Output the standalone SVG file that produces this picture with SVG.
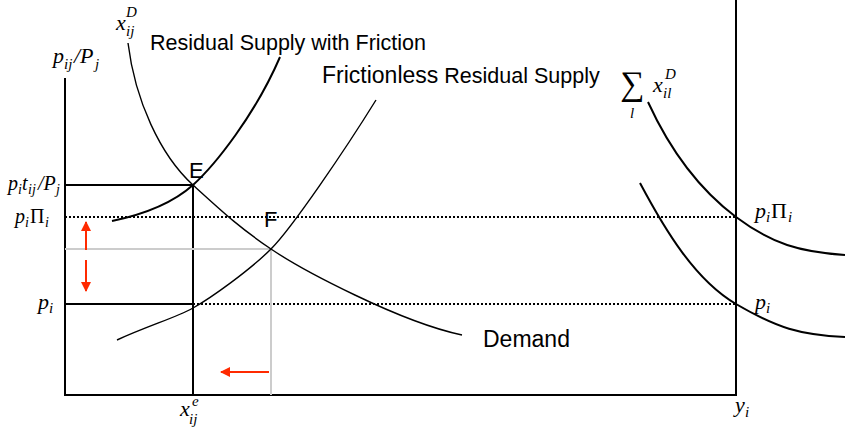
<svg xmlns="http://www.w3.org/2000/svg" width="845" height="432" viewBox="0 0 845 432">
<style>
.ax{stroke:#000;stroke-width:2;fill:none}
.cv{stroke:#000;stroke-width:1.4;fill:none}
.cvb{stroke:#000;stroke-width:2;fill:none}
.dot{stroke:#000;stroke-width:2;stroke-dasharray:2 2;fill:none}
.gr{stroke:#ccc;stroke-width:2;fill:none}
.red{stroke:#ff2a00;stroke-width:2;fill:none}
.m{font-family:"Liberation Serif",serif;font-style:italic;font-size:22px;fill:#000}
.mu{font-family:"Liberation Serif",serif;font-size:22px;fill:#000}
.s{font-family:"Liberation Serif",serif;font-style:italic;font-size:15px;fill:#000}
.t{font-family:"Liberation Sans",Arial,sans-serif;font-size:21.5px;fill:#000}
</style>
<defs>
<marker id="ah" markerWidth="12" markerHeight="12" refX="9" refY="5" orient="auto" markerUnits="userSpaceOnUse">
<path d="M0,0 L10,5 L0,10 z" fill="#ff2a00"/>
</marker>
</defs>
<g id="axes">
<line class="ax" x1="65" y1="78" x2="65" y2="396"/>
<line class="ax" x1="64" y1="395" x2="737" y2="395"/>
<line class="ax" x1="736" y1="0" x2="736" y2="396"/>
</g>
<g id="connectors">
<line class="ax" x1="65" y1="185" x2="193" y2="185"/>
<line class="ax" x1="193" y1="185" x2="193" y2="395"/>
<line class="ax" x1="65" y1="304" x2="193" y2="304"/>
<line class="dot" x1="193" y1="304" x2="736" y2="304"/>
<line class="dot" x1="65" y1="217" x2="736" y2="217"/>
<line class="gr" x1="65" y1="249" x2="271" y2="249"/>
<line class="gr" x1="271" y1="249" x2="271" y2="395"/>
<line class="red" x1="86" y1="250" x2="86" y2="222" marker-end="url(#ah)"/>
<line class="red" x1="86" y1="260" x2="86" y2="291" marker-end="url(#ah)"/>
<line class="red" x1="269" y1="372" x2="221" y2="372" marker-end="url(#ah)"/>
</g>
<g id="friction-supply">
<path class="cvb" d="M112,221 Q165,210 193,185 C215,165 255,115 280,57"/>
<text class="t" x="150" y="50">Residual Supply with Friction</text>
</g>
<g id="demand">
<path class="cv" d="M128,43 C135,100 160,155 193,185 S240,228 271,249 S400,322 462,335"/>
<text class="t" x="483" y="347" style="font-size:23px">Demand</text>
<text class="m" x="116" y="30">x</text>
<text class="s" x="126" y="36">ij</text>
<text class="s" x="126" y="17">D</text>
</g>
<g id="frictionless-supply">
<path class="cv" d="M117,340 C150,325 175,318 193,308 S250,270 271,249 S345,150 376,100"/>
<text class="t" x="322" y="83"><tspan style="font-size:23px">Frictionless</tspan><tspan> Residual Supply</tspan></text>
</g>
<g id="total-demand-upper">
<path class="cvb" d="M648,102 C670,150 700,190 736,217 S800,252 845,255"/>
<text class="mu" x="620" y="95" style="font-size:34px">∑</text>
<text class="s" x="630" y="118">l</text>
<text class="m" x="653" y="92">x</text>
<text class="s" x="663" y="98">il</text>
<text class="s" x="665" y="79">D</text>
</g>
<g id="total-demand-lower">
<path class="cvb" d="M640,183 C665,230 695,280 736,304 S800,335 845,337"/>
</g>
<g id="labels">
<text class="m" x="53" y="63">p</text>
<text class="s" x="64" y="69">ij</text>
<text class="m" x="74" y="63">/P</text>
<text class="s" x="95" y="69">j</text>
<text class="t" x="189" y="178" style="font-size:22px">E</text>
<text class="t" x="264" y="227" style="font-size:22px">F</text>
<text class="m" x="8" y="190" style="font-size:20px">p</text>
<text class="s" x="18" y="194" style="font-size:14px">i</text>
<text class="m" x="22" y="190" style="font-size:20px">t</text>
<text class="s" x="28" y="194" style="font-size:14px">ij</text>
<text class="m" x="38" y="190" style="font-size:20px">/P</text>
<text class="s" x="56" y="194" style="font-size:14px">j</text>
<text class="m" x="15" y="223" style="font-size:20px">p</text>
<text class="s" x="25" y="227" style="font-size:14px">i</text>
<text class="mu" x="30" y="223" style="font-size:20px">Π</text>
<text class="s" x="45" y="227" style="font-size:14px">i</text>
<text class="m" x="38" y="309">p</text>
<text class="s" x="49" y="313">i</text>
<text class="m" x="755" y="218">p</text>
<text class="s" x="766" y="222">i</text>
<text class="mu" x="771" y="218">Π</text>
<text class="s" x="788" y="222">i</text>
<text class="m" x="755" y="309">p</text>
<text class="s" x="766" y="313">i</text>
<text class="m" x="180" y="416">x</text>
<text class="s" x="189" y="424">ij</text>
<text class="s" x="192" y="406">e</text>
<text class="m" x="735" y="412">y</text>
<text class="s" x="745" y="417">i</text>
</g>
</svg>
